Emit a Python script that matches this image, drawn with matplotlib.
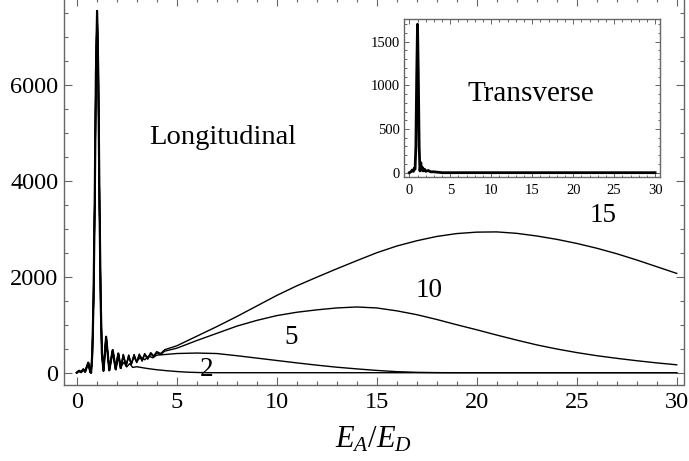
import matplotlib
matplotlib.use('Agg')
import matplotlib.pyplot as plt
import numpy as np

plt.rcParams['font.family'] = ['Liberation Serif', 'DejaVu Serif']
plt.rcParams['mathtext.fontset'] = 'custom'
plt.rcParams['mathtext.rm'] = 'Liberation Serif'
plt.rcParams['mathtext.it'] = 'Liberation Serif:italic'

# common trunk of all longitudinal curves (x < 2.2)
trunk_x = [0, 0.12, 0.22, 0.33, 0.42, 0.58, 0.68, 0.72, 0.78, 0.84, 0.90, 0.96,
           1.02, 1.08, 1.14, 1.20, 1.26, 1.34, 1.47, 1.63, 1.80, 1.95, 2.08, 2.2]
trunk_y = [0, 40, 10, 70, 20, 210, 10, 0, 400, 1500, 3500, 6200,
           7540, 6200, 3500, 1500, 400, 40, 750, 50, 470, 70, 400, 100]

# curve tails after the split
c15_x = [2.33, 2.47, 2.6, 2.73, 2.87, 3.0, 3.13, 3.27, 3.4, 3.55, 3.7, 3.85, 4.0, 4.2, 4.4,
         5, 6, 7, 8, 9, 10, 11, 12, 13, 14, 15, 16, 17, 18, 19, 20, 21, 22, 23, 24, 25,
         26, 27, 28, 29, 30]
c15_y = [380, 140, 370, 180, 380, 220, 390, 260, 400, 300, 420, 350, 440, 400, 480,
         560, 760, 960, 1170, 1390, 1610, 1810, 1990, 2165, 2335, 2500, 2640, 2750, 2840,
         2900, 2930, 2935, 2905, 2850, 2780, 2695, 2595, 2480, 2350, 2210, 2070]

c10_x = [2.33, 2.47, 2.6, 2.73, 2.87, 3.0, 3.13, 3.27, 3.4, 3.55, 3.7, 3.85, 4.0, 4.2, 4.4,
         5, 6, 7, 8, 9, 10, 11, 12, 13, 14, 15, 16, 17, 18, 19, 20, 21, 22, 23, 24, 25,
         26, 27, 28, 29, 30]
c10_y = [380, 140, 360, 170, 370, 210, 370, 240, 380, 280, 390, 330, 410, 380, 450,
         510, 670, 820, 970, 1090, 1190, 1260, 1310, 1350, 1370, 1350, 1290, 1210, 1110,
         1000, 895, 785, 680, 580, 495, 420, 355, 300, 250, 205, 165]

c5_x = [2.33, 2.47, 2.6, 2.73, 2.87, 3.0, 3.2, 3.4, 3.6, 3.8, 4, 5, 6, 7, 8, 9, 10, 11,
        12, 13, 14, 15, 16, 17, 18, 19, 30]
c5_y = [330, 160, 320, 190, 320, 230, 330, 270, 350, 310, 365, 400, 410, 400, 355, 305,
        255, 205, 158, 115, 80, 48, 22, 8, 2, 0, 0]

c2_x = [2.35, 2.5, 2.65, 2.8, 3.0, 3.5, 4, 4.5, 5, 5.5, 6, 6.5, 7, 30]
c2_y = [220, 120, 190, 110, 125, 90, 62, 42, 25, 12, 5, 1, 0, 0]

# transverse inset curve
tr_x = [0, 0.2, 0.35, 0.5, 0.6, 0.7, 0.8, 0.9, 1.0, 1.1, 1.2, 1.3, 1.4, 1.5, 1.6,
        1.7, 1.85, 2.0, 2.3, 2.6, 3.0, 3.5, 4.0, 30]
tr_y = [0, 10, 30, 15, 50, 40, 300, 1100, 1700, 1100, 300, 20, 115, 30, 60,
        20, 40, 15, 25, 10, 10, 5, 0, 0]

curve_labels = ['15', '10', '5', '2']
label_x = [26.3, 17.6, 10.7, 6.5]
label_y = [3285, 1723, 730, 70]

frame_col = '#666666'

fig = plt.figure(figsize=(6.89, 4.61), dpi=100)
ax = fig.add_axes([64/689, 76/461, 619.5/689, 387/461])

for cx, cy in [(c15_x, c15_y), (c10_x, c10_y), (c5_x, c5_y), (c2_x, c2_y)]:
    ax.plot(trunk_x + cx, trunk_y + cy, color='black', lw=1.0)
# the trunk is drawn heavier in the reference
ax.plot(trunk_x, trunk_y, color='black', lw=1.6)

ax.set_xlim(-0.635, 30.34)
ax.set_ylim(-256, 7810)
ax.set_xticks(np.arange(0, 31, 5))
ax.set_xticks(np.arange(0, 31, 1), minor=True)
ax.set_yticks([0, 2000, 4000, 6000])
ax.set_yticks(np.arange(0, 7800, 500), minor=True)
ax.tick_params(which='both', direction='in', top=True, right=True, colors=frame_col,
               labelcolor='black', labelsize=17.5)
ax.tick_params(which='major', length=6, width=0.8)
ax.tick_params(which='minor', length=3.2, width=0.8)
ax.tick_params(axis='x', pad=5)
ax.tick_params(axis='y', pad=4)
for s in ax.spines.values():
    s.set_color(frame_col)
    s.set_linewidth(1.0)
ax.set_xlabel(r'$E_A/E_D$', fontsize=22, labelpad=9)

ax.text(7.3, 4910, 'Longitudinal', fontsize=20.5, ha='center', va='center')
for t, lx, ly in zip(curve_labels, label_x, label_y):
    ax.text(lx, ly, t, fontsize=19.5, ha='center', va='center')

# inset
ins = fig.add_axes([404/689, (461-176.7)/461, 256/689, 157.7/461])
ins.set_facecolor('white')
ins.plot(tr_x, tr_y, color='black', lw=2.0)
ins.set_xlim(-0.65, 30.6)
ins.set_ylim(-46, 1760)
ins.set_xticks(np.arange(0, 31, 5))
ins.set_xticks(np.arange(0, 31, 1), minor=True)
ins.set_yticks([0, 500, 1000, 1500])
ins.set_yticks(np.arange(0, 1760, 100), minor=True)
ins.tick_params(which='both', direction='in', top=True, right=True, colors=frame_col,
                labelcolor='black', labelsize=10.5, pad=3)
ins.tick_params(axis='x', pad=5)
ins.tick_params(which='major', length=3.5, width=0.7)
ins.tick_params(which='minor', length=1.8, width=0.7)
for s in ins.spines.values():
    s.set_color(frame_col)
    s.set_linewidth(1.0)
ins.text(14.86, 901, 'Transverse', fontsize=21, ha='center', va='center')

fig.savefig('out.png', dpi=100)
